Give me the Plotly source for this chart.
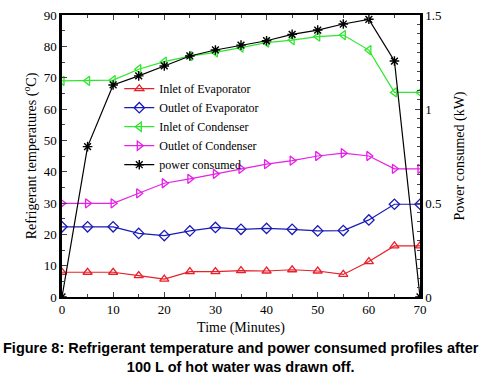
import plotly.graph_objects as go

time = [0, 5, 10, 15, 20, 25, 30, 35, 40, 45, 50, 55, 60, 65, 70]
inlet_evap = [7.9, 7.9, 7.9, 6.8, 5.7, 8.1, 8.1, 8.4, 8.3, 8.7, 8.3, 7.2, 11.3, 16.3, 16.3]
outlet_evap = [22.4, 22.4, 22.4, 20.3, 19.6, 21.1, 22.2, 21.6, 21.9, 21.6, 21.1, 21.2, 24.6, 29.6, 29.6]
inlet_cond = [69.0, 69.0, 69.2, 72.7, 75.1, 76.9, 78.1, 79.6, 81.2, 82.0, 83.1, 83.6, 78.8, 65.3, 65.3]
outlet_cond = [29.9, 29.9, 29.9, 33.1, 36.3, 37.7, 39.3, 40.9, 42.4, 43.5, 45.0, 45.9, 45.0, 40.9, 40.9]
power = [0.0, 0.80, 1.128, 1.176, 1.229, 1.282, 1.314, 1.340, 1.363, 1.397, 1.420, 1.452, 1.477, 1.255, 0.0]

fig = go.Figure()
series = [
    ("Inlet of Evaporator", inlet_evap, "#e8202a", "triangle-up-open"),
    ("Outlet of Evaporator", outlet_evap, "#1a1ab8", "diamond-open"),
    ("Inlet of Condenser", inlet_cond, "#2ee62e", "triangle-left-open"),
    ("Outlet of Condenser", outlet_cond, "#e620e6", "triangle-right-open"),
]
for name, vals, col, sym in series:
    fig.add_trace(go.Scatter(x=time, y=vals, name=name, mode="lines+markers",
                             line=dict(color=col, width=1.2),
                             marker=dict(symbol=sym, size=8, color=col, line=dict(width=1.3, color=col))))
fig.add_trace(go.Scatter(x=time, y=power, name="power consumed", mode="lines+markers", yaxis="y2",
                         line=dict(color="black", width=1.2),
                         marker=dict(symbol="asterisk-open", size=8, color="black", line=dict(width=1.4, color="black"))))

font = dict(family="Liberation Serif", size=13, color="black")
fig.update_layout(
    width=482, height=380,
    margin=dict(l=62, r=62, t=15, b=83),
    paper_bgcolor="white", plot_bgcolor="white",
    font=font,
    showlegend=True,
    legend=dict(x=0.16, y=0.79, xanchor="left", yanchor="top", bgcolor="rgba(0,0,0,0)",
                font=dict(family="Liberation Serif", size=12), tracegroupgap=0, itemwidth=30),
    xaxis=dict(range=[0, 70], dtick=10, ticks="inside", ticklen=5, showgrid=False, zeroline=False,
               showline=True, linecolor="black", linewidth=1.5, mirror="ticks", automargin=False,
               minor=dict(dtick=5, ticks="inside", ticklen=3),
               title=dict(text="Time (Minutes)", standoff=6, font=dict(size=14))),
    yaxis=dict(range=[0, 90], dtick=10, ticks="inside", ticklen=5, showgrid=False, zeroline=False,
               showline=True, linecolor="black", linewidth=2.5, automargin=False,
               minor=dict(dtick=5, ticks="inside", ticklen=3),
               title=dict(text="Refrigerant temperatures (<sup>o</sup>C)", standoff=4, font=dict(size=14))),
    yaxis2=dict(range=[0, 1.5], dtick=0.5, overlaying="y", side="right", ticks="inside", ticklen=5,
                showgrid=False, zeroline=False, showline=True, linecolor="black", linewidth=2.5,
                automargin=False,
                minor=dict(dtick=0.05, ticks="inside", ticklen=3),
                title=dict(text="Power consumed (kW)", standoff=14, font=dict(size=14))),
)
fig.add_annotation(text="<b>Figure 8: Refrigerant temperature and power consumed profiles after<br>100 L of hot water was drawn off.</b>",
                   xref="paper", yref="paper", x=0.5, y=-0.145, xanchor="center", yanchor="top",
                   showarrow=False, align="center",
                   font=dict(family="Liberation Sans", size=14.5, color="black"))
fig.write_html("out.html", post_script="document.body.style.margin='0';",
               config={"displayModeBar": False})
